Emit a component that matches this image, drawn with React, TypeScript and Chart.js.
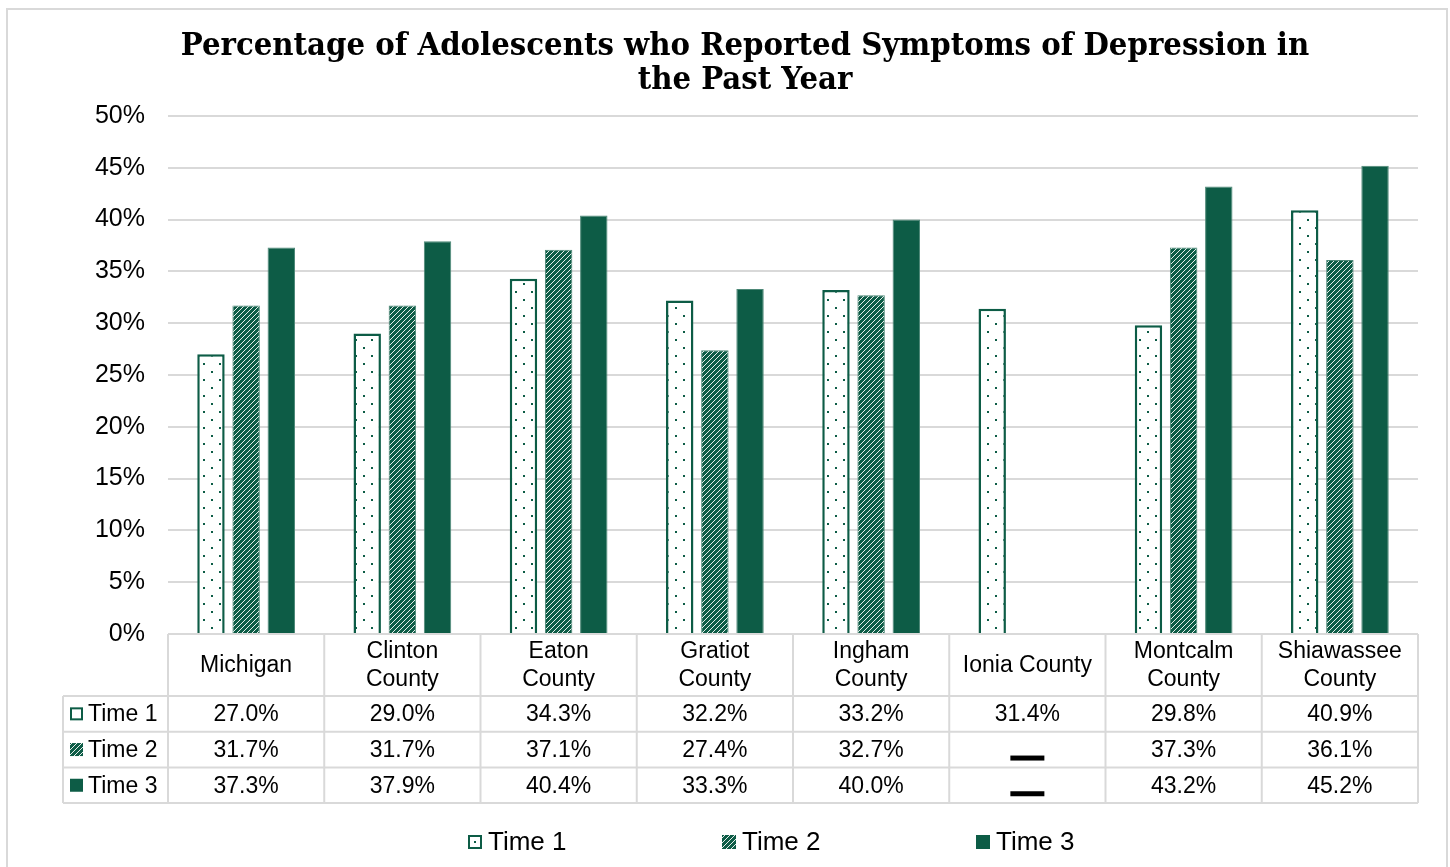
import React, { useEffect, useRef } from 'react';
import { Chart, registerables } from 'chart.js';

Chart.register(...registerables);

const titleLines = [
  'Percentage of Adolescents who Reported Symptoms of Depression in',
  'the Past Year',
];
const categories: string[][] = [
  ['Michigan'],
  ['Clinton', 'County'],
  ['Eaton', 'County'],
  ['Gratiot', 'County'],
  ['Ingham', 'County'],
  ['Ionia County'],
  ['Montcalm', 'County'],
  ['Shiawassee', 'County'],
];
const seriesNames = ['Time 1', 'Time 2', 'Time 3'];
const time1 = [27.0, 29.0, 34.3, 32.2, 33.2, 31.4, 29.8, 40.9];
const time2 = [31.7, 31.7, 37.1, 27.4, 32.7, null, 37.3, 36.1];
const time3 = [37.3, 37.9, 40.4, 33.3, 40.0, null, 43.2, 45.2];
const yMin = 0;
const yMax = 50;
const yStep = 5;

const GREEN = '#0d5c46';
const GRID = '#d9d9d9';
const SANS = "'Liberation Sans', Arial, sans-serif";

function makeDots(): CanvasPattern | string {
  const c = document.createElement('canvas');
  c.width = 16;
  c.height = 16;
  const g = c.getContext('2d');
  if (!g) return '#fff';
  g.fillStyle = '#ffffff';
  g.fillRect(0, 0, 16, 16);
  g.fillStyle = GREEN;
  g.fillRect(3, 3, 2, 2);
  g.fillRect(11, 11, 2, 2);
  return g.createPattern(c, 'repeat') as CanvasPattern;
}

function makeStripes(): CanvasPattern | string {
  const n = 5;
  const c = document.createElement('canvas');
  c.width = n;
  c.height = n;
  const g = c.getContext('2d');
  if (!g) return GREEN;
  g.fillStyle = GREEN;
  g.fillRect(0, 0, n, n);
  g.strokeStyle = '#ffffff';
  g.lineWidth = 0.9;
  g.beginPath();
  g.moveTo(-1, n + 1);
  g.lineTo(n + 1, -1);
  g.moveTo(-1, 1);
  g.lineTo(1, -1);
  g.moveTo(n - 1, n + 1);
  g.lineTo(n + 1, n - 1);
  g.stroke();
  return g.createPattern(c, 'repeat') as CanvasPattern;
}

export default function App() {
  const ref = useRef<HTMLCanvasElement | null>(null);

  useEffect(() => {
    const canvas = ref.current;
    if (!canvas) return;
    const dots = makeDots();
    const stripes = makeStripes();
    const series = [time1, time2, time3];

    const drawSwatch = (
      ctx: CanvasRenderingContext2D,
      i: number,
      x: number,
      y: number,
      s: number,
      dot: boolean,
    ) => {
      if (i === 0) {
        ctx.fillStyle = '#fff';
        ctx.fillRect(x, y, s, s);
        ctx.strokeStyle = GREEN;
        ctx.lineWidth = 2;
        ctx.strokeRect(x + 1, y + 1, s - 2, s - 2);
        if (dot) {
          ctx.fillStyle = GREEN;
          ctx.fillRect(x + s / 2 - 1, y + s / 2 - 1, 2, 2);
        }
      } else if (i === 1) {
        ctx.fillStyle = stripes as any;
        ctx.fillRect(x, y, s, s);
      } else {
        ctx.fillStyle = GREEN;
        ctx.fillRect(x, y, s, s);
      }
    };

    const decor = {
      id: 'decor',
      afterDraw(chart: any) {
        const ctx: CanvasRenderingContext2D = chart.ctx;
        const area = chart.chartArea;
        const xs = chart.scales.x;
        const n = categories.length;
        const w = (area.right - area.left) / n;
        ctx.save();

        // outer frame
        ctx.strokeStyle = GRID;
        ctx.lineWidth = 2;
        ctx.strokeRect(7, 9, 1440, 900);

        // title
        ctx.fillStyle = '#000';
        ctx.textAlign = 'center';
        ctx.textBaseline = 'alphabetic';
        ctx.font = "bold 32.5px 'DejaVu Serif Condensed', 'DejaVu Serif', serif";
        ctx.fillText(titleLines[0], 745, 55);
        ctx.fillText(titleLines[1], 745, 89);

        // data table
        const top = area.bottom;
        const headH = 62;
        const rowH = 35.7;
        const legendLeft = 63;
        const tableBottom = top + headH + rowH * 3;
        ctx.strokeStyle = GRID;
        ctx.lineWidth = 2;
        ctx.beginPath();
        ctx.moveTo(area.left, top);
        ctx.lineTo(area.right, top);
        for (let r = 0; r <= 3; r++) {
          const y = top + headH + rowH * r;
          ctx.moveTo(legendLeft, y);
          ctx.lineTo(area.right, y);
        }
        ctx.moveTo(legendLeft, top + headH);
        ctx.lineTo(legendLeft, tableBottom);
        for (let i = 0; i <= n; i++) {
          const x = area.left + i * w;
          ctx.moveTo(x, top);
          ctx.lineTo(x, tableBottom);
        }
        ctx.stroke();

        ctx.fillStyle = '#000';
        ctx.font = `23px ${SANS}`;
        ctx.textAlign = 'center';
        ctx.textBaseline = 'middle';
        for (let i = 0; i < n; i++) {
          const cx = xs.getPixelForValue(i);
          const lines = categories[i];
          const lh = 28;
          const cy = top + headH / 2 + 1;
          lines.forEach((ln, k) => {
            ctx.fillText(ln, cx, cy + (k - (lines.length - 1) / 2) * lh);
          });
          for (let s = 0; s < 3; s++) {
            const v = series[s][i];
            const ry = top + headH + rowH * s + rowH / 2 + 1;
            if (v === null || v === undefined) {
              ctx.fillRect(cx - 17, ry + 5, 34, 5);
            } else {
              ctx.fillText(`${v.toFixed(1)}%`, cx, ry);
            }
          }
        }
        // legend column of table
        ctx.textAlign = 'left';
        for (let s = 0; s < 3; s++) {
          const ry = top + headH + rowH * s + rowH / 2;
          drawSwatch(ctx, s, 70, ry - 6.5, 13, false);
          ctx.fillStyle = '#000';
          ctx.fillText(seriesNames[s], 88, ry + 1);
        }

        // bottom legend
        ctx.font = `26px ${SANS}`;
        for (let s = 0; s < 3; s++) {
          const lx = 468 + s * 254;
          const ly = 842;
          drawSwatch(ctx, s, lx, ly - 7, 14, true);
          ctx.fillStyle = '#000';
          ctx.fillText(seriesNames[s], lx + 20, ly + 1);
        }
        ctx.restore();
      },
    };

    const chart = new Chart(canvas, {
      type: 'bar',
      data: {
        labels: categories.map((c) => c.join(' ')),
        datasets: [
          {
            label: seriesNames[0],
            data: time1,
            backgroundColor: dots as any,
            borderColor: GREEN,
            borderWidth: 2.5,
          },
          {
            label: seriesNames[1],
            data: time2,
            backgroundColor: stripes as any,
            borderColor: '#4d8877',
            borderWidth: 1,
          },
          {
            label: seriesNames[2],
            data: time3,
            backgroundColor: GREEN,
            borderColor: '#4d8877',
            borderWidth: 1,
          },
        ],
      },
      options: {
        responsive: false,
        animation: false,
        layout: { padding: { left: 0, right: 32, top: 116, bottom: 233 } },
        plugins: {
          legend: { display: false },
          title: { display: false },
          tooltip: { enabled: false },
        },
        datasets: {
          bar: { categoryPercentage: 0.675, barPercentage: 0.78 },
        },
        scales: {
          x: { display: false },
          y: {
            min: yMin,
            max: yMax,
            ticks: {
              stepSize: yStep,
              callback: (v: any) => `${v}%`,
              color: '#000',
              font: { family: SANS, size: 25 },
              padding: 23,
            },
            grid: { color: GRID, lineWidth: 2, drawTicks: false },
            border: { display: false },
            afterFit: (s: any) => {
              s.width = 168;
            },
          },
        },
      },
      plugins: [decor],
    } as any);

    return () => chart.destroy();
  }, []);

  return (
    <div style={{ position: 'absolute', left: 0, top: 0, width: 1450, height: 867, background: '#fff' }}>
      <canvas ref={ref} width={1450} height={867} style={{ display: 'block' }} />
    </div>
  );
}
